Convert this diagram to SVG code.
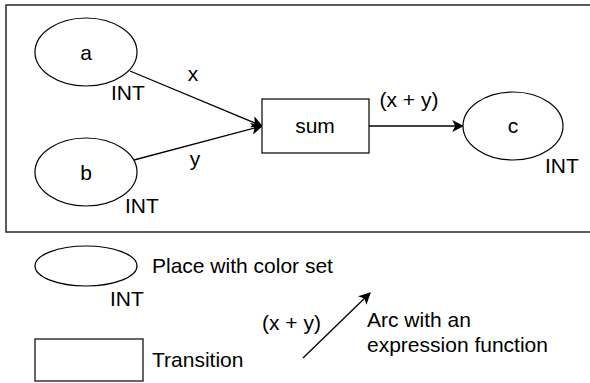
<svg xmlns="http://www.w3.org/2000/svg" width="590" height="383" viewBox="0 0 590 383">
<defs>
<style>
.s{fill:#fff;stroke:#000;stroke-width:1.2}
.e{fill:none;stroke:#000;stroke-width:1.3}
text{font-family:"Liberation Sans",Arial,sans-serif;font-size:21px;fill:#000}
.m{text-anchor:middle}
</style>
<marker id="ah2" viewBox="0 0 10 10" refX="9" refY="5" markerWidth="12" markerHeight="12" markerUnits="userSpaceOnUse" orient="auto">
<path d="M0,0 L10,5 L0,10 L2.5,5 Z" fill="#000"/>
</marker>
</defs>
<rect x="0" y="0" width="590" height="383" fill="#fff"/>
<rect id="frame" x="6" y="5" width="590" height="227" fill="none" stroke="#333" stroke-width="1.6"/>
<g id="connectors">
<path class="e" d="M130,71 L262,126" marker-end="url(#ah2)"/>
<path class="e" d="M134,160 L262,126" marker-end="url(#ah2)"/>
<path class="e" d="M369,126 L463,126" marker-end="url(#ah2)"/>
<text x="193" y="81" class="m">x</text>
<text x="195" y="166" class="m">y</text>
<text x="409" y="107" class="m">(x + y)</text>
</g>
<g id="a">
<ellipse class="s" cx="86" cy="52" rx="51" ry="34"/>
<text x="86" y="60" class="m">a</text>
<text x="111" y="100">INT</text>
</g>
<g id="b">
<ellipse class="s" cx="86" cy="172" rx="51" ry="34"/>
<text x="86" y="180" class="m">b</text>
<text x="125" y="213">INT</text>
</g>
<g id="sum">
<rect class="s" x="262" y="99" width="107" height="54"/>
<text x="315" y="133" class="m">sum</text>
</g>
<g id="c">
<ellipse class="s" cx="513" cy="126" rx="50" ry="34"/>
<text x="513" y="133" class="m">c</text>
<text x="545" y="173">INT</text>
</g>
<g id="legend-place">
<ellipse class="s" cx="86" cy="266" rx="51" ry="20"/>
<text x="110" y="306">INT</text>
<text x="152" y="273">Place with color set</text>
</g>
<g id="legend-transition">
<rect class="s" x="35" y="339" width="108" height="42"/>
<text x="152" y="367">Transition</text>
</g>
<g id="legend-arc">
<path class="e" d="M303,358 L370,293" marker-end="url(#ah2)"/>
<text x="262" y="330">(x + y)</text>
<text x="367" y="327">Arc with an</text>
<text x="367" y="352">expression function</text>
</g>
</svg>
